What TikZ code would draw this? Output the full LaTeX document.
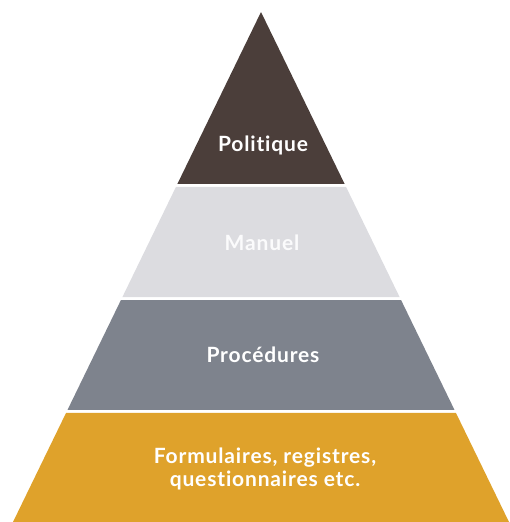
\documentclass[tikz,border=0pt]{standalone}
\usepackage{fontspec}
\setmainfont{Lato}[Ligatures=NoCommon, LetterSpace=4]
\usetikzlibrary{calc}
\definecolor{politique}{HTML}{4B3E3A}
\definecolor{manuel}{HTML}{DCDCE0}
\definecolor{procedures}{HTML}{7E838D}
\definecolor{formulaires}{HTML}{DFA22B}
\tikzstyle{layer} = [draw=none]
\tikzstyle{label} = [text=white, font=\bfseries\fontsize{21}{23}\selectfont, align=center]

\begin{document}
\begin{tikzpicture}[x=1pt, y=-1pt]

\useasboundingbox (0,0) rectangle (509,522);

%% CORNERS

\coordinate (apex) at (261,12);
\coordinate (bl) at (13,522);
\coordinate (br) at (509,522);

%% LAYERS

\fill [layer, politique] (apex) -- ($(apex)!0.337!(br)$) -- ($(apex)!0.337!(bl)$) -- cycle;
\fill [layer, manuel] ($(apex)!0.343!(bl)$) -- ($(apex)!0.343!(br)$) -- ($(apex)!0.559!(br)$) -- ($(apex)!0.559!(bl)$) -- cycle;
\fill [layer, procedures] ($(apex)!0.565!(bl)$) -- ($(apex)!0.565!(br)$) -- ($(apex)!0.780!(br)$) -- ($(apex)!0.780!(bl)$) -- cycle;
\fill [layer, formulaires] ($(apex)!0.786!(bl)$) -- ($(apex)!0.786!(br)$) -- (br) -- (bl) -- cycle;

%% LABELS

\node (politique_label) [label] at (263,145) {Politique};
\node (manuel_label) [label, text=white!90!manuel] at (262,243) {Manuel};
\node (procedures_label) [label] at (263,355) {Procédures};
\node (formulaires_label) [label] at (265,469) {Formulaires, registres,\\questionnaires etc.};

\end{tikzpicture}
\end{document}
